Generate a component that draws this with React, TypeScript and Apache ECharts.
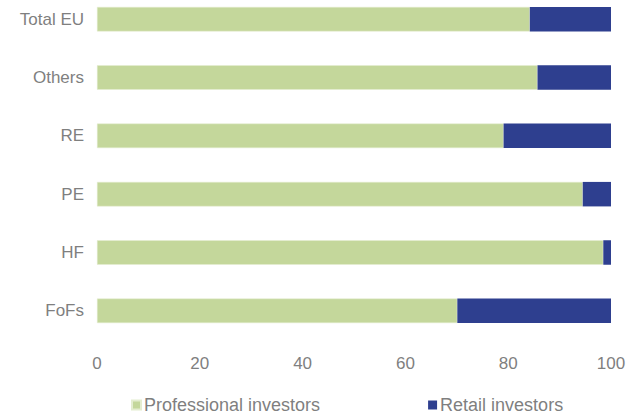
import React, { useEffect, useRef } from "react";
import * as echarts from "echarts";

const categories = ["FoFs", "HF", "PE", "RE", "Others", "Total EU"];
const professional = [70.1, 98.5, 94.5, 79.1, 85.7, 84.2];
const retail = [29.9, 1.5, 5.5, 20.9, 14.3, 15.8];
const seriesNames = ["Professional investors", "Retail investors"];

export default function App() {
  const ref = useRef<HTMLDivElement>(null);
  useEffect(() => {
    const chart = echarts.init(ref.current!, null, { renderer: "svg" });
    const font = "'Liberation Sans', Arial, sans-serif";
    chart.setOption({
      animation: false,
      grid: { left: 97, right: 18, top: 0, bottom: 79, containLabel: false },
      legend: {
        data: seriesNames,
        left: 126,
        top: 401,
        itemWidth: 9,
        itemHeight: 9,
        itemGap: 108,
        icon: "rect",
        textStyle: { color: "#7f7f7f", fontSize: 18, fontFamily: font, padding: [0, 0, 0, -2] },
      },
      xAxis: {
        type: "value",
        min: 0,
        max: 100,
        interval: 20,
        axisLine: { show: false },
        axisTick: { show: false },
        splitLine: { show: false },
        axisLabel: { color: "#7f7f7f", fontSize: 17, fontFamily: font, margin: 15 },
      },
      yAxis: {
        type: "category",
        data: categories,
        axisLine: { show: false },
        axisTick: { show: false },
        axisLabel: { color: "#7f7f7f", fontSize: 17, fontFamily: font, margin: 13 },
      },
      series: [
        {
          name: seriesNames[0],
          type: "bar",
          stack: "total",
          data: professional,
          barWidth: "42%",
          itemStyle: { color: "#c4d79b", borderColor: "#e4edd0", borderWidth: 0.5 },
        },
        {
          name: seriesNames[1],
          type: "bar",
          stack: "total",
          data: retail,
          barWidth: "42%",
          itemStyle: { color: "#2e3f8f" },
        },
      ],
    });
    return () => chart.dispose();
  }, []);
  return <div ref={ref} style={{ width: 629, height: 429, position: "absolute", left: 0, top: -10 }} />;
}
